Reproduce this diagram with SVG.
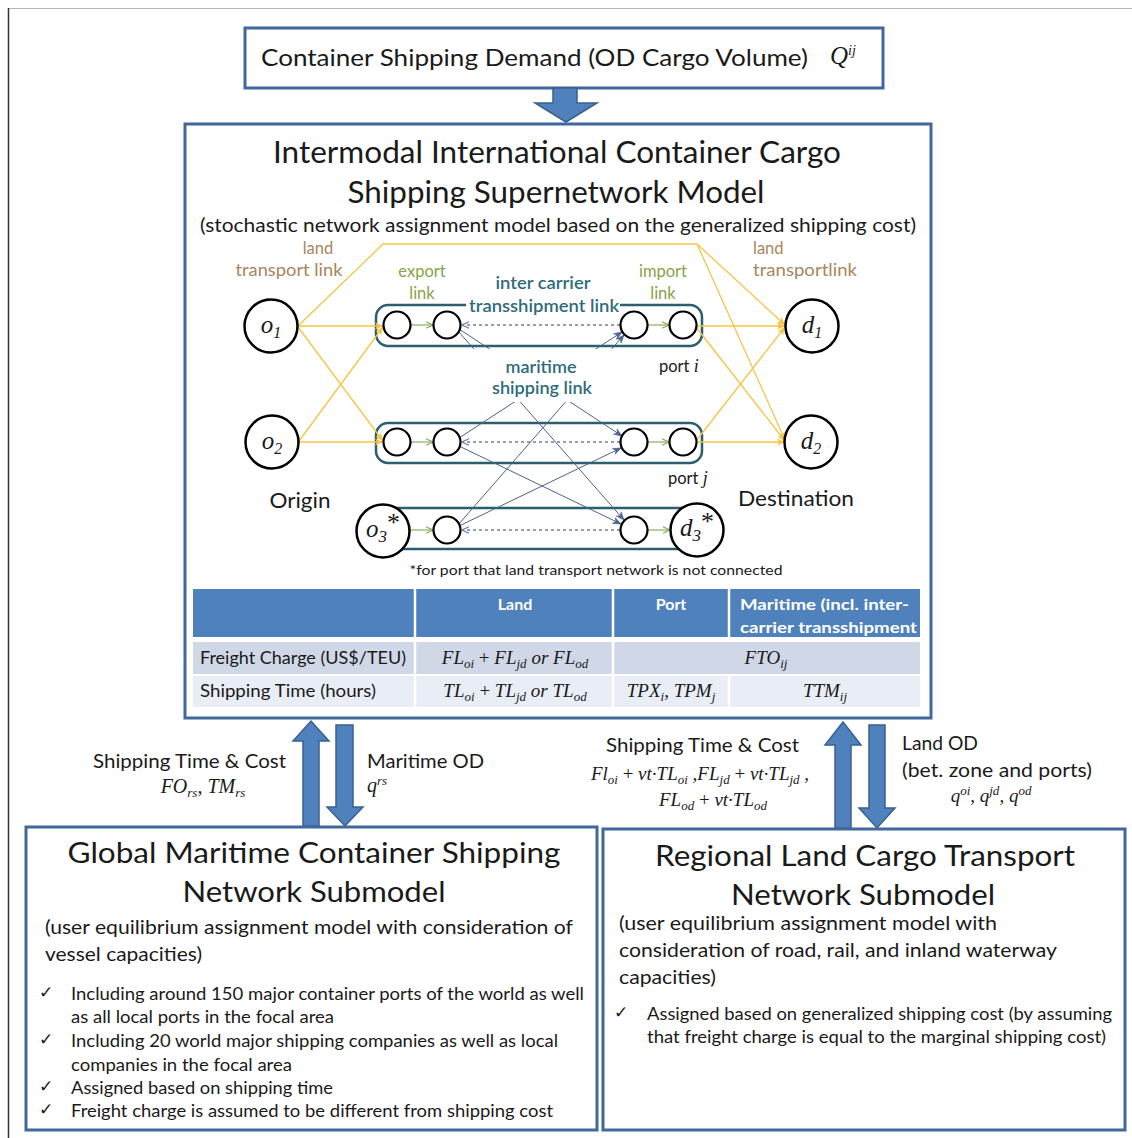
<svg xmlns="http://www.w3.org/2000/svg" width="1132" height="1138" viewBox="0 0 1132 1138">
<defs>
<style>
.s{font-family:Lato,"Noto Sans","DejaVu Sans",sans-serif;fill:#1a1a1a}
.m{font-family:"Liberation Serif","DejaVu Serif",serif;font-style:italic;fill:#1a1a1a}
.box{fill:#fff;stroke:#41679b;stroke-width:3}
.blk{fill:#4f81bd;stroke:#3a6090;stroke-width:1.5}
.node{fill:#fff;stroke:#000;stroke-width:2.5}
.port{fill:#fff;stroke:#000;stroke-width:2.2}
.grp{fill:none;stroke:#2c5f6e;stroke-width:2.5}
.land{stroke:#f6c445;stroke-width:1.3;fill:none}
.exp{stroke:#8db05e;stroke-width:1.2;fill:none}
.ts{stroke:#6d80a8;stroke-width:1.3;stroke-dasharray:3 3;fill:none}
.mar{stroke:#4b6391;stroke-width:1;fill:none}
.brown{fill:#a8865e}
.green{fill:#86a44a}
.teal{fill:#2e6b7c}
.th{font-family:Lato,"Noto Sans",sans-serif;font-weight:700;fill:#fff;font-size:16px}
.ck{font-family:"DejaVu Sans",sans-serif;font-size:17px;fill:#1a1a1a}
</style>
<marker id="mY" viewBox="0 0 8 8" refX="8" refY="4" markerWidth="8" markerHeight="8" markerUnits="userSpaceOnUse" orient="auto"><path d="M0,0.5 L8,4 L0,7.5 L2,4 z" fill="#f6c445"/></marker>
<marker id="mG" viewBox="0 0 8 8" refX="7.5" refY="4" markerWidth="8" markerHeight="8" markerUnits="userSpaceOnUse" orient="auto"><path d="M0.5,0.8 L7.5,4 L0.5,7.2" fill="none" stroke="#8db05e" stroke-width="1.2"/></marker>
<marker id="mB" viewBox="0 0 9 8" refX="8.5" refY="4" markerWidth="9" markerHeight="8" markerUnits="userSpaceOnUse" orient="auto"><path d="M0.5,0.8 L8.5,4 L0.5,7.2 L3,4 z" fill="#4b6391" stroke="#4b6391" stroke-width="0.6"/></marker>
<marker id="mD" viewBox="0 0 8 8" refX="7.5" refY="4" markerWidth="8" markerHeight="8" markerUnits="userSpaceOnUse" orient="auto"><path d="M0.5,0.8 L7.5,4 L0.5,7.2" fill="none" stroke="#6d80a8" stroke-width="1.2"/></marker>
</defs>
<rect width="1132" height="1138" fill="#fff"/>
<line x1="8" y1="8.5" x2="1132" y2="8.5" stroke="#b5b5b5" stroke-width="1"/>
<line x1="8.5" y1="8" x2="8.5" y2="1138" stroke="#333" stroke-width="1.5"/>

<g id="demand">
<rect class="box" x="245" y="28" width="638" height="60"/>
<text class="s" x="261" y="66" font-size="23" textLength="547" lengthAdjust="spacingAndGlyphs">Container Shipping Demand (OD Cargo Volume)</text>
<text class="m" x="830" y="64" font-size="25">Q<tspan dy="-9" font-size="14">ij</tspan></text>
</g>

<g id="supernetwork">
<rect class="box" x="185" y="124" width="746" height="594"/>
<text class="s" x="557" y="163" font-size="30" text-anchor="middle" textLength="568" lengthAdjust="spacingAndGlyphs">Intermodal International Container Cargo</text>
<text class="s" x="556" y="203" font-size="30" text-anchor="middle" textLength="417" lengthAdjust="spacingAndGlyphs">Shipping Supernetwork Model</text>
<text class="s" x="558" y="232" font-size="19" text-anchor="middle" textLength="716" lengthAdjust="spacingAndGlyphs">(stochastic network assignment model based on the generalized shipping cost)</text>
<text class="s" x="300" y="508" font-size="21" text-anchor="middle" textLength="61" lengthAdjust="spacingAndGlyphs">Origin</text>
<text class="s" x="796" y="506" font-size="21" text-anchor="middle" textLength="116" lengthAdjust="spacingAndGlyphs">Destination</text>
<text class="s" x="596" y="575" font-size="14" text-anchor="middle" textLength="373" lengthAdjust="spacingAndGlyphs">*for port that land transport network is not connected</text>
</g>

<g id="port-groups">
<rect class="grp" x="376" y="305" width="326" height="41" rx="12"/>
<rect class="grp" x="376" y="423" width="326" height="40" rx="12"/>
<rect class="grp" x="383" y="508" width="314" height="41"/>
</g>

<g id="connectors">
<path class="land" d="M298,326 L383,244 L697,244"/>
<path class="land" d="M298,326 L383,326" marker-end="url(#mY)"/>
<path class="land" d="M298,327 L383,441" marker-end="url(#mY)"/>
<path class="land" d="M299,442 L383,442" marker-end="url(#mY)"/>
<path class="land" d="M299,441 L383,327" marker-end="url(#mY)"/>
<path class="land" d="M697,244 L785,325" marker-end="url(#mY)"/>
<path class="land" d="M697,244 L785,440" marker-end="url(#mY)"/>
<path class="land" d="M696,326 L785,326" marker-end="url(#mY)"/>
<path class="land" d="M696,327 L785,441" marker-end="url(#mY)"/>
<path class="land" d="M696,442 L785,442" marker-end="url(#mY)"/>
<path class="land" d="M696,441 L785,327" marker-end="url(#mY)"/>
<path class="exp" d="M411,325 L433,325" marker-end="url(#mG)"/>
<path class="exp" d="M648,325 L669,325" marker-end="url(#mG)"/>
<path class="exp" d="M411,442 L433,442" marker-end="url(#mG)"/>
<path class="exp" d="M648,442 L669,442" marker-end="url(#mG)"/>
<path class="exp" d="M410,530 L433,530" marker-end="url(#mG)"/>
<path class="exp" d="M648,530 L670,530" marker-end="url(#mG)"/>
<path class="ts" d="M620,325 L462,325" marker-end="url(#mD)"/>
<path class="ts" d="M620,442 L462,442" marker-end="url(#mD)"/>
<path class="ts" d="M620,530 L462,530" marker-end="url(#mD)"/>
<path class="mar" d="M459,329 L622,436" marker-end="url(#mB)"/>
<path class="mar" d="M458,331 L624,520" marker-end="url(#mB)"/>
<path class="mar" d="M459,438 L622,332" marker-end="url(#mB)"/>
<path class="mar" d="M458,525 L624,335" marker-end="url(#mB)"/>
<path class="mar" d="M459,446 L621,524" marker-end="url(#mB)"/>
<path class="mar" d="M459,526 L621,448" marker-end="url(#mB)"/>
</g>

<g id="link-labels">
<text class="s brown" x="318" y="254" font-size="16.5" text-anchor="middle">land</text>
<text class="s brown" x="289" y="276" font-size="16.5" text-anchor="middle" textLength="107" lengthAdjust="spacingAndGlyphs">transport link</text>
<text class="s green" x="422" y="277" font-size="16.5" text-anchor="middle">export</text>
<text class="s green" x="422" y="299" font-size="16.5" text-anchor="middle">link</text>
<text class="s teal" x="543" y="289" font-size="17" font-weight="600" text-anchor="middle" textLength="95" lengthAdjust="spacingAndGlyphs">inter carrier</text>
<rect x="466" y="296" width="154" height="18" fill="#fff"/>
<text class="s teal" x="544" y="312" font-size="17" font-weight="600" text-anchor="middle" textLength="150" lengthAdjust="spacingAndGlyphs">transshipment link</text>
<text class="s green" x="663" y="277" font-size="16.5" text-anchor="middle">import</text>
<text class="s green" x="663" y="299" font-size="16.5" text-anchor="middle">link</text>
<text class="s brown" x="753" y="254" font-size="16.5">land</text>
<text class="s brown" x="753" y="276" font-size="16.5" textLength="104" lengthAdjust="spacingAndGlyphs">transportlink</text>
<rect x="470" y="349" width="142" height="53" fill="#fff"/>
<text class="s teal" x="541" y="373" font-size="17" font-weight="600" text-anchor="middle" textLength="71" lengthAdjust="spacingAndGlyphs">maritime</text>
<text class="s teal" x="542" y="394" font-size="17" font-weight="600" text-anchor="middle" textLength="100" lengthAdjust="spacingAndGlyphs">shipping link</text>
<text class="s" x="659" y="372" font-size="16.5" fill="#333">port <tspan class="m" font-size="18">i</tspan></text>
<text class="s" x="668" y="484" font-size="16.5" fill="#333">port <tspan class="m" font-size="18">j</tspan></text>
</g>

<g id="port-i">
<circle class="port" cx="397" cy="325" r="13.5"/>
<circle class="port" cx="447" cy="325" r="13.5"/>
<circle class="port" cx="634" cy="325" r="13.5"/>
<circle class="port" cx="683" cy="325" r="13.5"/>
</g>
<g id="port-j">
<circle class="port" cx="397" cy="442" r="13.5"/>
<circle class="port" cx="447" cy="442" r="13.5"/>
<circle class="port" cx="634" cy="442" r="13.5"/>
<circle class="port" cx="683" cy="442" r="13.5"/>
</g>
<g id="port-3">
<circle class="port" cx="447" cy="530" r="13.5"/>
<circle class="port" cx="634" cy="530" r="13.5"/>
</g>

<g id="o1"><circle class="node" cx="271" cy="326" r="26.5"/><text class="m" x="271" y="333" font-size="25" text-anchor="middle">o<tspan dy="5" font-size="16">1</tspan></text></g>
<g id="o2"><circle class="node" cx="272" cy="442" r="26.5"/><text class="m" x="272" y="449" font-size="25" text-anchor="middle">o<tspan dy="5" font-size="16">2</tspan></text></g>
<g id="o3"><circle class="node" cx="383" cy="531" r="26.5"/><text class="m" x="383" y="537" font-size="25" text-anchor="middle">o<tspan dy="5" font-size="17">3</tspan><tspan dy="-11" font-size="26" font-style="normal">*</tspan></text></g>
<g id="d1"><circle class="node" cx="812" cy="326" r="26.5"/><text class="m" x="812" y="333" font-size="25" text-anchor="middle">d<tspan dy="5" font-size="16">1</tspan></text></g>
<g id="d2"><circle class="node" cx="811" cy="442" r="26.5"/><text class="m" x="811" y="449" font-size="25" text-anchor="middle">d<tspan dy="5" font-size="16">2</tspan></text></g>
<g id="d3"><circle class="node" cx="697" cy="530" r="26.5"/><text class="m" x="697" y="536" font-size="25" text-anchor="middle">d<tspan dy="5" font-size="17">3</tspan><tspan dy="-11" font-size="26" font-style="normal">*</tspan></text></g>

<g id="cost-table">
<rect x="193" y="589" width="727" height="48" fill="#4f81bd"/>
<rect x="193" y="642" width="727" height="32" fill="#d0d8e8"/>
<rect x="193" y="676" width="727" height="31" fill="#e9edf5"/>
<g stroke="#fff" stroke-width="2.5">
<line x1="415" y1="589" x2="415" y2="707"/>
<line x1="613" y1="589" x2="613" y2="707"/>
<line x1="729" y1="589" x2="729" y2="637"/>
<line x1="729" y1="676" x2="729" y2="707"/>
</g>
<text class="th" x="515" y="610" text-anchor="middle">Land</text>
<text class="th" x="671" y="610" text-anchor="middle">Port</text>
<text class="th" x="740" y="610" textLength="169" lengthAdjust="spacingAndGlyphs">Maritime (incl. inter-</text>
<text class="th" x="740" y="633" textLength="177" lengthAdjust="spacingAndGlyphs">carrier transshipment</text>
<text class="s" x="200" y="664" font-size="16.5" textLength="206" lengthAdjust="spacingAndGlyphs">Freight Charge (US$/TEU)</text>
<text class="s" x="200" y="697" font-size="16.5" textLength="176" lengthAdjust="spacingAndGlyphs">Shipping Time (hours)</text>
<text class="m" x="515" y="664" font-size="19" text-anchor="middle">FL<tspan dy="4" font-size="13">oi</tspan><tspan dy="-4" font-style="normal"> + </tspan>FL<tspan dy="4" font-size="13">jd</tspan><tspan dy="-4"> or FL</tspan><tspan dy="4" font-size="13">od</tspan></text>
<text class="m" x="766" y="664" font-size="19" text-anchor="middle">FTO<tspan dy="4" font-size="13">ij</tspan></text>
<text class="m" x="515" y="697" font-size="19" text-anchor="middle">TL<tspan dy="4" font-size="13">oi</tspan><tspan dy="-4" font-style="normal"> + </tspan>TL<tspan dy="4" font-size="13">jd</tspan><tspan dy="-4"> or TL</tspan><tspan dy="4" font-size="13">od</tspan></text>
<text class="m" x="671" y="697" font-size="19" text-anchor="middle">TPX<tspan dy="4" font-size="13">i</tspan><tspan dy="-4">, TPM</tspan><tspan dy="4" font-size="13">j</tspan></text>
<text class="m" x="825" y="697" font-size="19" text-anchor="middle">TTM<tspan dy="4" font-size="13">ij</tspan></text>
</g>

<g id="flow-arrows">
<polygon class="blk" points="553,88 577,88 577,103 597,103 566,122 535,103 553,103"/>
<polygon class="blk" points="303,826 319,826 319,741 329,741 311,721 293,741 303,741"/>
<polygon class="blk" points="336,725 353,725 353,807 363,807 345,826 327,807 336,807"/>
<polygon class="blk" points="835,828 851,828 851,745 861,745 843,722 825,745 835,745"/>
<polygon class="blk" points="869,725 885,725 885,808 895,808 877,828 859,808 869,808"/>
</g>

<g id="flow-labels">
<text class="s" x="93" y="768" font-size="19" textLength="193" lengthAdjust="spacingAndGlyphs">Shipping Time &amp; Cost</text>
<text class="m" x="203" y="793" font-size="20" text-anchor="middle">FO<tspan dy="4" font-size="13">rs</tspan><tspan dy="-4">, TM</tspan><tspan dy="4" font-size="13">rs</tspan></text>
<text class="s" x="367" y="768" font-size="19" textLength="117" lengthAdjust="spacingAndGlyphs">Maritime OD</text>
<text class="m" x="367" y="792" font-size="20">q<tspan dy="-7" font-size="13">rs</tspan></text>
<text class="s" x="606" y="752" font-size="19" textLength="193" lengthAdjust="spacingAndGlyphs">Shipping Time &amp; Cost</text>
<text class="m" x="700" y="780" font-size="19" text-anchor="middle">Fl<tspan dy="4" font-size="13">oi</tspan><tspan dy="-4" font-style="normal"> + </tspan>vt·TL<tspan dy="4" font-size="13">oi</tspan><tspan dy="-4"> ,FL</tspan><tspan dy="4" font-size="13">jd</tspan><tspan dy="-4" font-style="normal"> + </tspan>vt·TL<tspan dy="4" font-size="13">jd</tspan><tspan dy="-4"> ,</tspan></text>
<text class="m" x="713" y="806" font-size="19" text-anchor="middle">FL<tspan dy="4" font-size="13">od</tspan><tspan dy="-4" font-style="normal"> + </tspan>vt·TL<tspan dy="4" font-size="13">od</tspan></text>
<text class="s" x="902" y="750" font-size="19" textLength="76" lengthAdjust="spacingAndGlyphs">Land OD</text>
<text class="s" x="902" y="777" font-size="19" textLength="190" lengthAdjust="spacingAndGlyphs">(bet. zone and ports)</text>
<text class="m" x="991" y="802" font-size="19" text-anchor="middle">q<tspan dy="-7" font-size="13">oi</tspan><tspan dy="7">, q</tspan><tspan dy="-7" font-size="13">jd</tspan><tspan dy="7">, q</tspan><tspan dy="-7" font-size="13">od</tspan></text>
</g>

<g id="maritime-submodel">
<rect class="box" x="26" y="827" width="571" height="303"/>
<text class="s" x="314" y="863" font-size="29" text-anchor="middle" textLength="493" lengthAdjust="spacingAndGlyphs">Global Maritime Container Shipping</text>
<text class="s" x="314" y="902" font-size="29" text-anchor="middle" textLength="263" lengthAdjust="spacingAndGlyphs">Network Submodel</text>
<text class="s" x="45" y="934" font-size="19" textLength="528" lengthAdjust="spacingAndGlyphs">(user equilibrium assignment model with consideration of</text>
<text class="s" x="45" y="961" font-size="19" textLength="157" lengthAdjust="spacingAndGlyphs">vessel capacities)</text>
<text class="ck" x="39" y="998">✓</text>
<text class="s" x="71" y="1000" font-size="16.5" textLength="513" lengthAdjust="spacingAndGlyphs">Including around 150 major container ports of the world as well</text>
<text class="s" x="71" y="1023" font-size="16.5" textLength="263" lengthAdjust="spacingAndGlyphs">as all local ports in the focal area</text>
<text class="ck" x="39" y="1045">✓</text>
<text class="s" x="71" y="1047" font-size="16.5" textLength="487" lengthAdjust="spacingAndGlyphs">Including 20 world major shipping companies as well as local</text>
<text class="s" x="71" y="1071" font-size="16.5" textLength="221" lengthAdjust="spacingAndGlyphs">companies in the focal area</text>
<text class="ck" x="39" y="1092">✓</text>
<text class="s" x="71" y="1094" font-size="16.5" textLength="262" lengthAdjust="spacingAndGlyphs">Assigned based on shipping time</text>
<text class="ck" x="39" y="1115">✓</text>
<text class="s" x="71" y="1117" font-size="16.5" textLength="482" lengthAdjust="spacingAndGlyphs">Freight charge is assumed to be different from shipping cost</text>
</g>

<g id="land-submodel">
<rect class="box" x="603" y="829" width="522" height="301"/>
<text class="s" x="865" y="866" font-size="29" text-anchor="middle" textLength="420" lengthAdjust="spacingAndGlyphs">Regional Land Cargo Transport</text>
<text class="s" x="863" y="905" font-size="29" text-anchor="middle" textLength="264" lengthAdjust="spacingAndGlyphs">Network Submodel</text>
<text class="s" x="619" y="930" font-size="19" textLength="378" lengthAdjust="spacingAndGlyphs">(user equilibrium assignment  model with</text>
<text class="s" x="619" y="957" font-size="19" textLength="438" lengthAdjust="spacingAndGlyphs">consideration of road, rail, and inland waterway</text>
<text class="s" x="619" y="984" font-size="19" textLength="97" lengthAdjust="spacingAndGlyphs">capacities)</text>
<text class="ck" x="614" y="1018">✓</text>
<text class="s" x="647" y="1020" font-size="16.5" textLength="465" lengthAdjust="spacingAndGlyphs">Assigned based on generalized shipping cost (by assuming</text>
<text class="s" x="647" y="1043" font-size="16.5" textLength="459" lengthAdjust="spacingAndGlyphs">that freight charge is equal to the marginal shipping cost)</text>
</g>
</svg>
